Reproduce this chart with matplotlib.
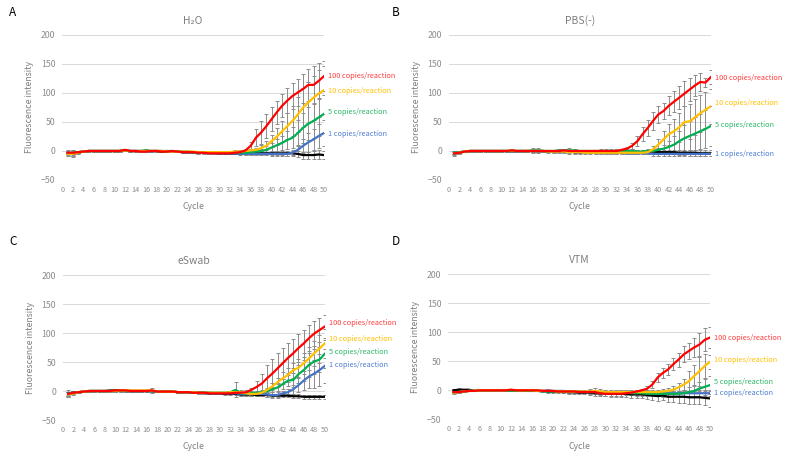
#!/usr/bin/env python3
"""
qPCR amplification curves in four transport media (H2O, PBS(-), eSwab, VTM)
Mean fluorescence per cycle with SD error bars, one line per template amount
"""
import matplotlib
matplotlib.use("Agg")
import matplotlib.pyplot as plt

plt.rcParams['font.family'] = ['Noto Sans CJK JP', 'DejaVu Sans']

cycles = list(range(1, 51))
series_names = ["Negative", "1 copies/reaction", "5 copies/reaction",
                "10 copies/reaction", "100 copies/reaction"]
panel_titles = ["H\u2082O", "PBS(-)", "eSwab", "VTM"]
panel_letters = ["A", "B", "C", "D"]

# ---- H2O ----
black_A = [-4, -5, -3, -1, 0, 0, 0, 0, 0, 0,
           0, 1, 0, 0, 0, 0, 0, 0, -1, -1,
           -1, -1, -2, -2, -2, -3, -3, -3, -3, -4,
           -4, -4, -4, -4, -4, -4, -4, -4, -4, -4,
           -4, -4, -4, -4, -5, -7, -7, -7, -6, -7]
blue_A = [-3, -4, -2, -1, 0, 0, 0, 0, 0, 0,
          0, 1, 0, 0, 0, 0, -1, 0, 0, -1,
          -1, -1, -2, -2, -2, -3, -3, -3, -4, -4,
          -4, -4, -4, -5, -5, -5, -5, -5, -5, -5,
          -5, -5, -5, -3, 2, 9, 15, 20, 26, 31]
green_A = [-4, -3, -2, -1, 0, 0, 0, 0, 0, 0,
           0, 1, 0, 0, 0, 1, 0, 0, 0, 0,
           0, -1, -1, -1, -2, -2, -2, -3, -3, -3,
           -3, -3, -3, -3, -3, -2, -1, 0, 2, 6,
           10, 14, 19, 23, 31, 40, 47, 52, 58, 64]
yellow_A = [-5, -5, -3, -1, 0, 0, 0, 0, 0, 0,
            0, 1, 0, 0, 0, 0, 0, 0, 0, -1,
            -1, -1, -1, -1, -1, -2, -2, -2, -2, -2,
            -2, -2, -1, -1, 0, 1, 2, 5, 9, 17,
            25, 34, 43, 52, 63, 75, 84, 92, 99, 105]
red_A = [-3, -3, -2, -1, 0, 0, 0, 0, 0, 0,
         0, 2, 0, 0, -1, -1, 0, 0, -1, -1,
         0, -1, -2, -2, -2, -3, -3, -4, -4, -4,
         -4, -4, -3, -2, 1, 9, 23, 32, 43, 55,
         67, 78, 87, 95, 101, 107, 114, 114, 121, 129]

sd_black_A = [5, 6, 2, 1, 1, 1, 1, 1, 1, 1,
              1, 1, 1, 1, 1, 1, 1, 1, 1, 1,
              1, 1, 2, 2, 2, 2, 2, 2, 2, 2,
              2, 2, 2, 2, 3, 3, 3, 3, 3, 4,
              4, 4, 4, 4, 5, 6, 6, 7, 7, 7]
sd_blue_A = [3, 4, 1, 1, 1, 1, 1, 1, 1, 1,
             1, 1, 1, 1, 1, 1, 1, 1, 1, 1,
             1, 1, 1, 1, 1, 2, 2, 2, 2, 2,
             2, 2, 2, 2, 2, 2, 2, 2, 2, 2,
             2, 2, 3, 4, 8, 12, 16, 18, 20, 22]
sd_green_A = [3, 4, 1, 1, 1, 1, 1, 1, 1, 1,
              1, 1, 1, 1, 1, 2, 1, 1, 1, 1,
              1, 1, 1, 1, 1, 1, 2, 2, 2, 2,
              2, 2, 2, 2, 2, 2, 3, 4, 6, 8,
              10, 12, 15, 18, 22, 26, 28, 30, 32, 33]
sd_yellow_A = [3, 3, 1, 1, 1, 1, 1, 1, 1, 1,
               1, 1, 1, 1, 1, 1, 1, 1, 1, 1,
               1, 1, 1, 1, 1, 1, 2, 2, 2, 2,
               2, 2, 2, 2, 2, 3, 3, 5, 8, 10,
               14, 18, 22, 26, 30, 33, 35, 38, 40, 42]
sd_red_A = [2, 2, 1, 1, 1, 1, 1, 1, 1, 1,
            1, 1, 1, 1, 1, 1, 1, 1, 1, 1,
            1, 1, 1, 1, 1, 1, 1, 1, 1, 1,
            1, 1, 1, 2, 3, 6, 15, 20, 20, 21,
            20, 20, 21, 22, 23, 25, 27, 33, 30, 26]

# ---- PBS(-) ----
black_B = [-4, -3, -1, 0, 0, 0, 0, 0, 0, 0,
           0, 0, 0, 0, 0, 0, 0, 0, -1, -1,
           -1, -1, -1, -2, -2, -2, -2, -2, -2, -2,
           -2, -2, -2, -2, -2, -2, -2, -1, -1, -2,
           -2, -2, -2, -3, -3, -3, -3, -4, -4, -4]
blue_B = [-3, -2, -1, 0, 0, 0, 0, 0, 0, 0,
          0, 0, 0, 0, 0, 0, 0, 0, -1, -1,
          -1, -1, -1, -2, -2, -2, -2, -3, -3, -3,
          -3, -3, -3, -4, -4, -4, -4, -4, -5, -5,
          -5, -5, -5, -5, -5, -5, -5, -5, -5, -5]
green_B = [-3, -2, -1, 0, 0, 0, 0, 0, 0, 0,
           0, 0, 0, 0, 0, 1, 1, 0, 0, 0,
           1, 1, 1, 1, 0, 0, 0, 0, 0, 0,
           0, 0, 0, 0, 0, -1, -1, 0, 0, 2,
           4, 7, 11, 17, 22, 26, 30, 34, 38, 43]
yellow_B = [-4, -3, -1, 0, 0, 0, 0, 0, 0, 0,
            0, 1, 0, 0, 0, 0, 0, 0, -1, -1,
            -1, -1, -2, -2, -2, -3, -3, -3, -3, -3,
            -3, -3, -3, -3, -3, -3, -3, -2, 3, 11,
            20, 29, 34, 41, 50, 51, 58, 65, 71, 77]
red_B = [-4, -3, -1, 0, 0, 0, 0, 0, 0, 0,
         0, 1, 0, 0, 0, 0, 0, 0, 0, 0,
         0, 1, 0, 0, 0, 0, 0, 0, 0, 0,
         0, 0, 2, 4, 9, 17, 29, 40, 52, 63,
         69, 78, 85, 92, 99, 106, 113, 119, 118, 127]

sd_black_B = [4, 3, 1, 1, 1, 1, 1, 1, 1, 1,
              1, 1, 1, 1, 1, 1, 1, 1, 2, 2,
              2, 2, 2, 2, 2, 2, 2, 2, 2, 3,
              3, 3, 3, 3, 3, 3, 3, 3, 3, 4,
              4, 4, 4, 4, 4, 5, 5, 5, 5, 5]
sd_blue_B = [3, 2, 1, 1, 1, 1, 1, 1, 1, 1,
             1, 1, 1, 1, 1, 1, 1, 1, 1, 1,
             1, 1, 1, 2, 2, 2, 2, 2, 2, 2,
             2, 2, 2, 2, 2, 2, 2, 2, 3, 3,
             3, 3, 3, 3, 3, 3, 3, 3, 3, 3]
sd_green_B = [2, 2, 1, 1, 1, 1, 1, 1, 1, 1,
              1, 1, 1, 1, 1, 4, 4, 1, 1, 2,
              3, 3, 4, 3, 2, 2, 2, 2, 3, 3,
              3, 3, 3, 3, 3, 3, 3, 3, 3, 4,
              6, 10, 14, 18, 22, 25, 28, 30, 32, 35]
sd_yellow_B = [2, 2, 1, 1, 1, 1, 1, 1, 1, 1,
               1, 2, 1, 1, 1, 1, 1, 1, 1, 2,
               2, 2, 3, 3, 3, 3, 3, 3, 3, 3,
               3, 3, 3, 3, 3, 3, 3, 4, 6, 10,
               14, 18, 22, 25, 28, 30, 31, 32, 31, 30]
sd_red_B = [3, 2, 1, 1, 1, 1, 1, 1, 1, 1,
            1, 1, 1, 1, 1, 1, 1, 1, 1, 1,
            1, 1, 1, 1, 1, 1, 1, 1, 1, 1,
            1, 1, 2, 3, 5, 8, 12, 14, 15, 15,
            14, 16, 18, 20, 22, 20, 18, 15, 8, 12]

# ---- eSwab ----
black_C = [-4, -3, -2, -1, 0, 0, 0, 0, 1, 1,
           1, 0, 0, 0, 0, 0, 0, -1, -1, -1,
           -1, -2, -2, -2, -3, -3, -3, -4, -4, -4,
           -5, -5, -5, -6, -6, -6, -7, -7, -7, -8,
           -8, -8, -8, -9, -9, -10, -10, -10, -10, -10]
blue_C = [-4, -3, -2, -1, 0, 0, 0, 0, 0, 0,
          0, 0, 0, 0, 0, 0, 0, -1, -1, -1,
          -1, -2, -2, -2, -2, -3, -3, -3, -4, -4,
          -4, -4, -4, -5, -5, -5, -5, -5, -6, -7,
          -7, -4, -2, 3, 10, 18, 25, 30, 36, 43]
green_C = [-5, -3, -2, -1, 0, 0, 0, 0, 0, 0,
           0, 0, 0, 0, 0, 0, 0, -1, -1, -1,
           -1, -2, -2, -2, -2, -3, -3, -3, -3, -3,
           -3, -2, 2, -4, -4, -3, -3, -2, 0, 3,
           6, 12, 18, 19, 29, 36, 45, 51, 54, 64]
yellow_C = [-6, -4, -2, -1, 0, 0, 0, 0, 0, 0,
            1, 1, 1, 1, 1, 1, 1, -1, -1, -1,
            -1, -2, -2, -2, -2, -3, -3, -3, -3, -3,
            -3, -2, -2, -2, -4, -5, -5, -3, 2, 8,
            15, 22, 28, 36, 40, 48, 56, 65, 73, 82]
red_C = [-5, -3, -2, -1, 0, 0, 0, 0, 0, 1,
         1, 1, 0, 0, 0, 0, 1, -1, -1, -1,
         -1, -2, -2, -2, -3, -3, -3, -4, -4, -4,
         -4, -4, -3, -3, -2, 2, 7, 13, 22, 30,
         39, 48, 57, 65, 74, 82, 91, 99, 105, 111]

sd_black_C = [6, 3, 1, 1, 1, 1, 1, 1, 1, 1,
              1, 1, 1, 1, 1, 1, 1, 1, 1, 1,
              1, 1, 1, 1, 1, 2, 2, 2, 2, 2,
              2, 2, 2, 2, 2, 2, 2, 2, 3, 3,
              3, 3, 3, 3, 3, 3, 3, 3, 3, 3]
sd_blue_C = [3, 2, 1, 1, 1, 1, 1, 1, 1, 1,
             1, 1, 1, 1, 1, 1, 1, 1, 1, 1,
             1, 1, 1, 1, 1, 2, 2, 2, 2, 2,
             2, 2, 2, 3, 3, 3, 3, 3, 4, 5,
             5, 4, 5, 8, 12, 16, 20, 24, 27, 30]
sd_green_C = [3, 2, 1, 1, 1, 1, 1, 1, 1, 1,
              1, 1, 1, 1, 1, 1, 1, 1, 1, 1,
              1, 1, 1, 1, 1, 2, 2, 2, 2, 2,
              2, 2, 13, 3, 3, 3, 3, 3, 3, 4,
              6, 8, 10, 12, 15, 18, 20, 22, 22, 24]
sd_yellow_C = [4, 3, 1, 1, 1, 1, 1, 1, 1, 1,
               1, 1, 1, 1, 1, 1, 1, 1, 1, 1,
               1, 1, 1, 1, 1, 2, 2, 2, 2, 2,
               2, 2, 3, 3, 3, 3, 3, 3, 4, 6,
               8, 10, 12, 13, 15, 18, 20, 22, 24, 25]
sd_red_C = [4, 3, 1, 1, 1, 1, 1, 1, 1, 1,
            1, 1, 1, 1, 1, 2, 4, 1, 1, 1,
            1, 1, 1, 1, 1, 1, 1, 1, 1, 1,
            1, 1, 1, 2, 3, 4, 10, 17, 22, 25,
            26, 27, 26, 25, 24, 23, 22, 22, 21, 20]

# ---- VTM ----
black_D = [0, 1, 1, 1, -1, 0, 0, 0, 0, 0,
           0, 0, 0, 0, -1, -1, -1, -1, -2, -2,
           -2, -3, -3, -3, -4, -4, -4, -5, -5, -5,
           -6, -6, -6, -6, -7, -7, -7, -8, -9, -10,
           -9, -11, -11, -11, -11, -12, -12, -12, -13, -14]
blue_D = [-3, -3, -2, -1, -1, 0, 0, 0, 0, 0,
          0, 0, 0, 0, -1, -1, -1, -1, 0, -1,
          -1, -1, -2, -2, -2, -3, -3, -3, -4, -4,
          -4, -4, -4, -4, -4, -4, -4, -4, -5, -5,
          -5, -5, -5, -5, -5, -5, -5, -5, -5, -5]
green_D = [-3, -3, -2, -1, -1, 0, 0, 0, 0, 0,
           0, -1, -1, -1, -1, -1, -1, -2, -2, -2,
           -2, -2, -2, -3, -3, -3, -3, -3, -4, -4,
           -4, -4, -4, -4, -5, -5, -5, -6, -6, -6,
           -6, -6, -6, -6, -5, -3, -1, 3, 6, 9]
yellow_D = [-4, -3, -2, -1, -1, 0, 0, 0, 0, 0,
            0, 1, 0, 0, 0, 0, -1, -1, -1, -1,
            -2, -2, -2, -2, -2, -2, -2, -1, -2, -3,
            -3, -3, -3, -3, -3, -3, -3, -3, -3, -3,
            -2, -1, 1, 5, 10, 16, 25, 33, 42, 49]
red_D = [-3, -3, -2, -1, -1, 0, 0, 0, 0, 0,
         0, 1, 0, 0, 0, 0, 0, -1, -1, -1,
         -2, -2, -2, -2, -3, -3, -3, -3, -5, -6,
         -6, -6, -6, -5, -4, -2, 0, 3, 10, 22,
         30, 36, 45, 53, 62, 68, 74, 79, 87, 91]

sd_black_D = [3, 3, 2, 2, 1, 1, 1, 1, 1, 1,
              1, 1, 1, 1, 1, 1, 1, 1, 2, 2,
              2, 2, 3, 3, 3, 3, 4, 4, 4, 5,
              5, 5, 6, 6, 6, 7, 7, 7, 7, 8,
              8, 9, 9, 10, 10, 11, 11, 12, 13, 14]
sd_blue_D = [2, 2, 1, 1, 1, 1, 1, 1, 1, 1,
             1, 1, 1, 1, 1, 1, 1, 1, 2, 2,
             2, 2, 2, 2, 2, 2, 3, 3, 3, 3,
             3, 3, 3, 3, 3, 4, 4, 4, 4, 4,
             4, 4, 4, 4, 4, 4, 4, 4, 4, 4]
sd_green_D = [2, 2, 1, 1, 1, 1, 1, 1, 1, 1,
              1, 1, 1, 1, 1, 1, 1, 1, 1, 1,
              1, 1, 2, 2, 2, 2, 2, 2, 3, 3,
              3, 3, 3, 3, 3, 4, 4, 4, 4, 4,
              5, 5, 5, 5, 6, 8, 10, 12, 14, 15]
sd_yellow_D = [2, 2, 1, 1, 1, 1, 1, 1, 1, 1,
               1, 1, 1, 1, 1, 1, 1, 1, 1, 1,
               1, 1, 2, 2, 2, 2, 5, 5, 4, 3,
               3, 3, 3, 3, 3, 3, 3, 3, 3, 3,
               4, 5, 6, 8, 10, 18, 18, 25, 20, 12]
sd_red_D = [2, 2, 1, 1, 1, 1, 1, 1, 1, 1,
            1, 1, 1, 1, 1, 1, 1, 1, 1, 1,
            1, 1, 1, 1, 1, 2, 2, 2, 3, 3,
            3, 3, 3, 3, 3, 3, 3, 4, 6, 8,
            8, 10, 10, 12, 14, 14, 17, 20, 20, 18]

panel_means = [
    [black_A, blue_A, green_A, yellow_A, red_A],
    [black_B, blue_B, green_B, yellow_B, red_B],
    [black_C, blue_C, green_C, yellow_C, red_C],
    [black_D, blue_D, green_D, yellow_D, red_D],
]
panel_sds = [
    [sd_black_A, sd_blue_A, sd_green_A, sd_yellow_A, sd_red_A],
    [sd_black_B, sd_blue_B, sd_green_B, sd_yellow_B, sd_red_B],
    [sd_black_C, sd_blue_C, sd_green_C, sd_yellow_C, sd_red_C],
    [sd_black_D, sd_blue_D, sd_green_D, sd_yellow_D, sd_red_D],
]

# style (not data)
COLORS = ['#000000', '#4472C4', '#00B050', '#FFC000', '#FF0000']
LABEL_COLORS = ['#000000', '#4F7FD0', '#2DB86A', '#FFC000', '#FF3B3B']
GRAY = '#8c8c8c'
# label y-positions at the right end (blue, green, yellow, red)
LABEL_Y = [
    [30, 68, 103, 130],
    [-6, 45, 82, 126],
    [44, 67, 90, 117],
    [-5, 14, 53, 90],
]
# axes rectangles in figure fraction (left, bottom, width, height)
AX_RECTS = [
    (0.0792, 0.6044, 0.3325, 0.3187),
    (0.5705, 0.6044, 0.3325, 0.3187),
    (0.0800, 0.0769, 0.3325, 0.3187),
    (0.5696, 0.0784, 0.3325, 0.3187),
]
LETTER_POS = [(0.012, 0.973), (0.498, 0.973), (0.012, 0.470), (0.498, 0.470)]


def draw_panel(ax, idx):
    means = panel_means[idx]
    sds = panel_sds[idx]
    for k, (m, s) in enumerate(zip(means, sds)):
        ax.errorbar(cycles, m, yerr=s, fmt='none', ecolor=GRAY, elinewidth=0.7,
                    capsize=1.6, capthick=0.7, zorder=2 + k * 0.1)
    for k, m in enumerate(means):
        ax.plot(cycles, m, color=COLORS[k], linewidth=1.6, zorder=3 + k * 0.1,
                solid_joinstyle='round')

    for k in range(1, 5):
        ax.annotate(series_names[k], xy=(50, LABEL_Y[idx][k - 1]),
                    xytext=(3, 0), textcoords='offset points',
                    color=LABEL_COLORS[k], fontsize=5.3, va='center', ha='left',
                    annotation_clip=False)

    ax.set_xlim(0, 50)
    ax.set_ylim(-50, 200)
    ax.set_xticks(range(0, 51, 2))
    ax.set_yticks(range(-50, 201, 50))
    ax.tick_params(axis='x', labelsize=5.2, colors=GRAY, length=0, pad=4)
    ax.tick_params(axis='y', labelsize=6.3, colors=GRAY, length=0, pad=5)
    ax.grid(axis='y', color='#d9d9d9', linewidth=0.7)
    ax.set_axisbelow(True)
    for sp in ax.spines.values():
        sp.set_visible(False)

    ax.set_xlabel('Cycle', fontsize=6.3, color='#7f7f7f')
    ax.xaxis.set_label_coords(0.5, -0.155)
    ax.set_ylabel('Fluorescence intensity', fontsize=6.3, color='#7f7f7f')
    ax.yaxis.set_label_coords(-0.108, 0.5)
    ax.set_title(panel_titles[idx], fontsize=7.5, color='#7f7f7f', pad=8,
                 family=['Noto Sans CJK JP', 'DejaVu Sans'])


def main():
    fig = plt.figure(figsize=(7.87, 4.55), dpi=100)
    for i in range(4):
        ax = fig.add_axes(AX_RECTS[i])
        draw_panel(ax, i)
        fig.text(LETTER_POS[i][0], LETTER_POS[i][1], panel_letters[i],
                 fontsize=8.5, color='#000000', va='center', ha='left')
    fig.savefig('out.png', dpi=100)
    plt.close(fig)


if __name__ == "__main__":
    main()
